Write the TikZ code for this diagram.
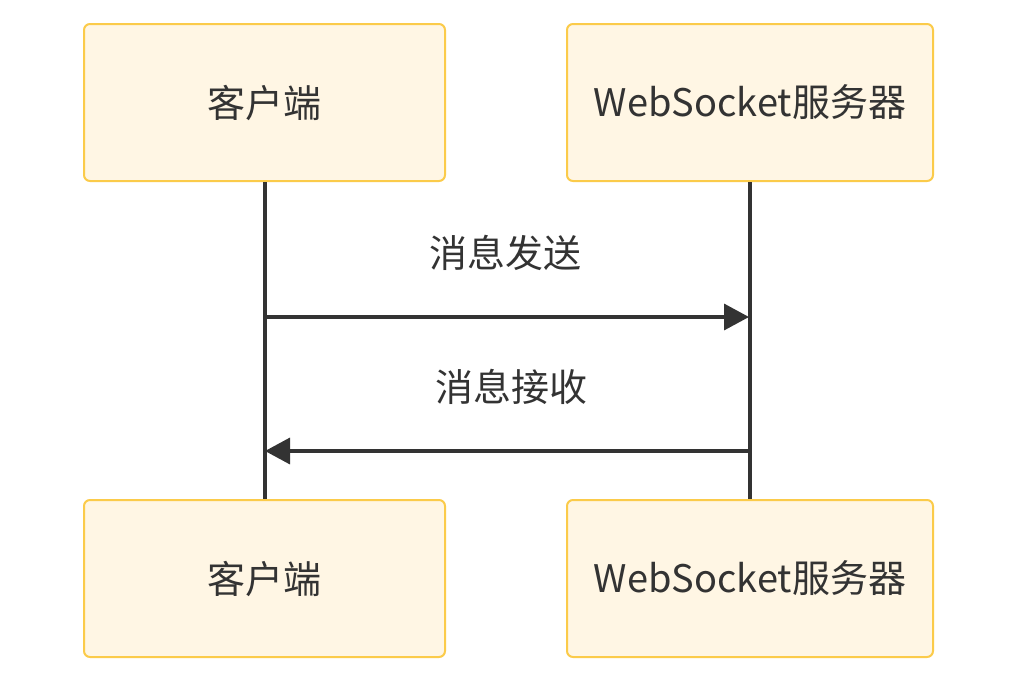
\documentclass[tikz,border=0pt]{standalone}
\usepackage{fontspec}
\setmainfont{Noto Sans CJK SC}
\usetikzlibrary{arrows.meta}
\definecolor{boxfill}{HTML}{FFF6E4}
\definecolor{boxline}{HTML}{FBCB4A}
\definecolor{ink}{HTML}{333333}
\tikzset{
  actor/.style={draw=boxline, fill=boxfill, line width=2pt, rounded corners=6pt,
    minimum height=157pt, text=ink, font=\fontsize{38}{44}\selectfont},
  life/.style={draw=ink, line width=4pt},
  msg/.style={draw=ink, line width=3.5pt, -{Triangle[length=25pt,width=26pt]}},
  msglabel/.style={text=ink, font=\fontsize{38}{44}\selectfont}
}
\begin{document}
\begin{tikzpicture}[x=1pt,y=-1pt]
\useasboundingbox (0,0) rectangle (1017,675);
\node[actor, minimum width=361pt] (clienttop) at (264.5,102.5) {客户端};
\node[actor, minimum width=366pt] (servertop) at (750,102.5) {WebSocket服务器};
\node[actor, minimum width=361pt] (clientbot) at (264.5,578.5) {客户端};
\node[actor, minimum width=366pt] (serverbot) at (750,578.5) {WebSocket服务器};
\draw[life] (clienttop.south) -- (clientbot.north);
\draw[life] (servertop.south) -- (serverbot.north);
\coordinate (sendA) at (265,317);
\coordinate (sendB) at (749,317);
\coordinate (recvA) at (749,451);
\coordinate (recvB) at (265,451);
\draw[msg] (sendA) -- (sendB);
\draw[msg] (recvA) -- (recvB);
\node[msglabel] (sendtext) at (505,253) {消息发送};
\node[msglabel] (recvtext) at (511,387) {消息接收};
\end{tikzpicture}
\end{document}
